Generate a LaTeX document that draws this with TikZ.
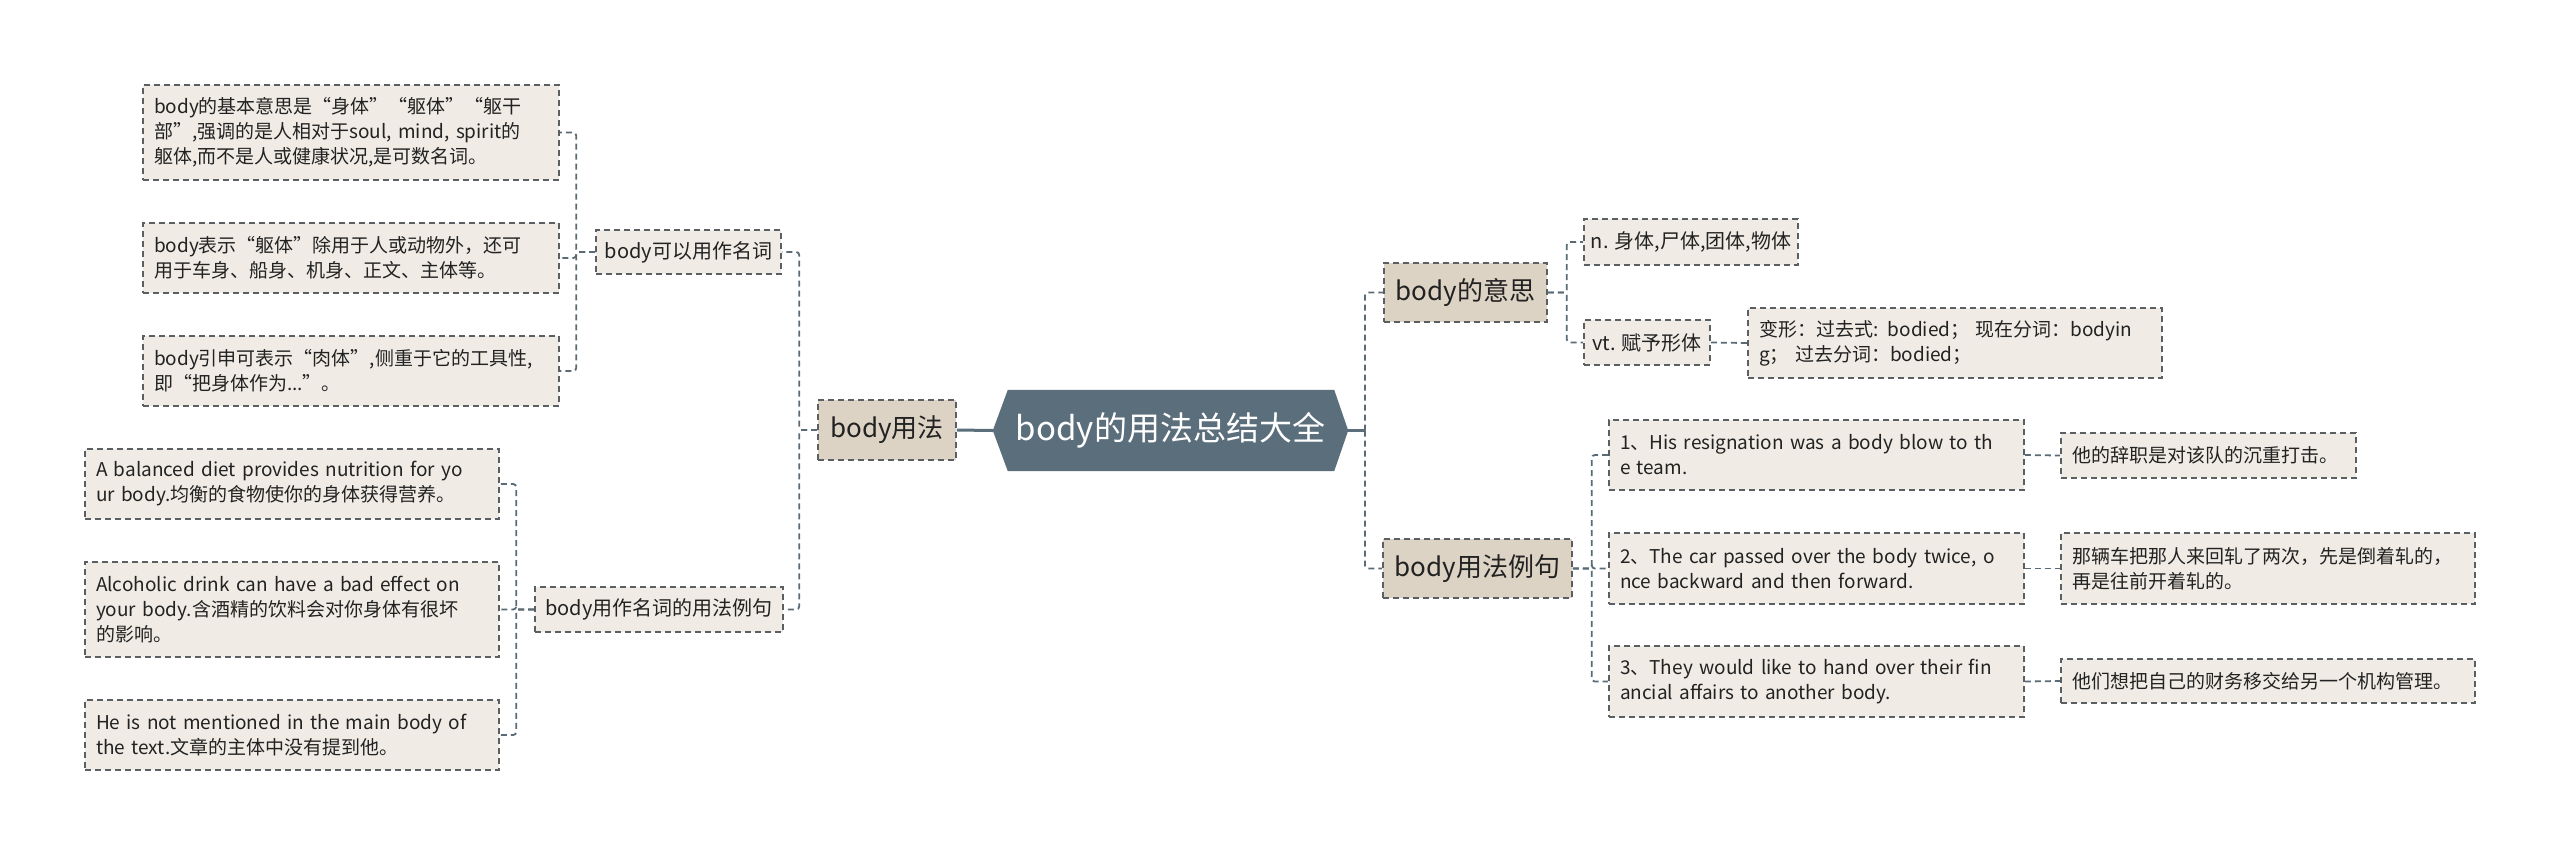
\documentclass[tikz,border=0pt]{standalone}
\usepackage{fontspec}
\setmainfont{Noto Sans CJK SC}
\usetikzlibrary{backgrounds}
\definecolor{rootfill}{HTML}{5B6E7B}
\definecolor{lvfill}{HTML}{DDD3C5}
\definecolor{leaffill}{HTML}{F0ECE5}
\definecolor{bordercol}{HTML}{5A5F63}
\definecolor{conncol}{HTML}{5B6B75}
\definecolor{txt}{HTML}{222222}
\tikzset{
 box/.style={draw=bordercol, line width=1.6pt, dash pattern=on 6pt off 4pt, inner ysep=0pt, text=txt, anchor=center},
 leaf/.style={box, fill=leaffill, inner xsep=11pt, align=left, font=\fontsize{19}{25}\selectfont},
 midbox/.style={box, fill=leaffill, inner xsep=0pt, align=center, font=\fontsize{20}{25}\selectfont},
 lvone/.style={box, fill=lvfill, inner xsep=0pt, align=center, font=\fontsize{26}{30}\selectfont},
 rootnode/.style={inner sep=0pt, text=white, align=center, font=\fontsize{33}{36}\selectfont},
 conn/.style={draw=conncol, line width=1.8pt, dash pattern=on 6pt off 4pt, rounded corners=3pt},
 rootline/.style={draw=rootfill, line width=3pt},
}
\begin{document}
\begin{tikzpicture}[x=1pt,y=-1pt]
\useasboundingbox (0,0) rectangle (2560,855);
\begin{pgfonlayer}{background}
\fill[white] (0,0) rectangle (2560,855);
\end{pgfonlayer}

% root
\node[rootnode, minimum width=355pt, minimum height=81pt] (root) at (1170.5,430.5) {body的用法总结大全};
\begin{pgfonlayer}{background}
\fill[rootfill] (root.west) -- ([xshift=15pt]root.north west) -- ([xshift=-14pt]root.north east) -- (root.east) -- ([xshift=-14pt]root.south east) -- ([xshift=15pt]root.south west) -- cycle;
\end{pgfonlayer}

% level one
\node[lvone, minimum width=138pt, minimum height=60pt] (usage) at (887,430) {body用法};
\node[lvone, minimum width=163pt, minimum height=59pt] (meaning) at (1465.5,292.5) {body的意思};
\node[lvone, minimum width=189pt, minimum height=59pt] (examples) at (1477.5,568.5) {body用法例句};

% level two
\node[midbox, minimum width=185pt, minimum height=44pt] (noun) at (688.5,252) {body可以用作名词};
\node[midbox, minimum width=248pt, minimum height=45pt] (nounex) at (659,609.5) {body用作名词的用法例句};
\node[midbox, minimum width=214pt, minimum height=46pt] (nmean) at (1691,242) {n. 身体,尸体,团体,物体};
\node[midbox, minimum width=126pt, minimum height=45pt] (vtmean) at (1647,342.5) {vt. 赋予形体};

% leaves left
\node[leaf, text width=394pt, minimum height=95pt] (a1) at (351,132.5) {body的基本意思是“身体”“躯体”“躯干\\部”,强调的是人相对于soul, mind, spirit的\\躯体,而不是人或健康状况,是可数名词。};
\node[leaf, text width=394pt, minimum height=70pt] (a2) at (351,258) {body表示“躯体”除用于人或动物外，还可\\用于车身、船身、机身、正文、主体等。};
\node[leaf, text width=394pt, minimum height=70pt] (a3) at (351,371) {body引申可表示“肉体”,侧重于它的工具性,\\即“把身体作为...”。};
\node[leaf, text width=392pt, minimum height=70pt] (b1) at (292,484) {A balanced diet provides nutrition for yo\\ur body.均衡的食物使你的身体获得营养。};
\node[leaf, text width=392pt, minimum height=95pt] (b2) at (292,609.5) {Alcoholic drink can have a bad effect on\\your body.含酒精的饮料会对你身体有很坏\\的影响。};
\node[leaf, text width=392pt, minimum height=70pt] (b3) at (292,735) {He is not mentioned in the main body of\\the text.文章的主体中没有提到他。};

% leaves right
\node[leaf, text width=392pt, minimum height=70pt] (forms) at (1955,343) {变形：过去式: bodied； 现在分词：bodyin\\g； 过去分词：bodied；};
\node[leaf, text width=393pt, minimum height=70pt] (e1) at (1816.5,455) {1、His resignation was a body blow to th\\e team.};
\node[leaf, text width=393pt, minimum height=71pt] (e2) at (1816.5,568.5) {2、The car passed over the body twice, o\\nce backward and then forward.};
\node[leaf, text width=393pt, minimum height=71pt] (e3) at (1816.5,681.5) {3、They would like to hand over their fin\\ancial affairs to another body.};
\node[leaf, text width=273pt, minimum height=45pt] (c1) at (2208.5,455.5) {他的辞职是对该队的沉重打击。};
\node[leaf, text width=392pt, minimum height=71pt] (c2) at (2268,568.5) {那辆车把那人来回轧了两次，先是倒着轧的，\\再是往前开着轧的。};
\node[leaf, text width=392pt, minimum height=44pt] (c3) at (2268,681) {他们想把自己的财务移交给另一个机构管理。};

% connectors
\coordinate (rj) at (1365,430.5);
\draw[rootline] (root.west) -- (usage.east);
\draw[rootline] (root.east) -- (rj);
\draw[conn] (rj) |- (meaning.west);
\draw[conn] (rj) |- (examples.west);

\draw[conn] (usage.west) -- ++(-18,0) |- (noun.east);
\draw[conn] (usage.west) -- ++(-18,0) |- (nounex.east);

\draw[conn] (noun.west) -- ++(-19,0) |- (a1.east);
\draw[conn] (noun.west) -- ++(-19,0) |- (a2.east);
\draw[conn] (noun.west) -- ++(-19,0) |- (a3.east);

\draw[conn] (nounex.west) -- ++(-18,0) |- (b1.east);
\draw[conn] (nounex.west) -- ++(-18,0) |- (b2.east);
\draw[conn] (nounex.west) -- ++(-18,0) |- (b3.east);

\draw[conn] (meaning.east) -- ++(19,0) |- (nmean.west);
\draw[conn] (meaning.east) -- ++(19,0) |- (vtmean.west);
\draw[conn] (vtmean.east) -- (forms.west);

\draw[conn] (examples.east) -- ++(19,0) |- (e1.west);
\draw[conn] (examples.east) -- ++(19,0) |- (e2.west);
\draw[conn] (examples.east) -- ++(19,0) |- (e3.west);
\draw[conn] (e1.east) -- (c1.west);
\draw[conn] (e2.east) -- (c2.west);
\draw[conn] (e3.east) -- (c3.west);
\end{tikzpicture}
\end{document}
